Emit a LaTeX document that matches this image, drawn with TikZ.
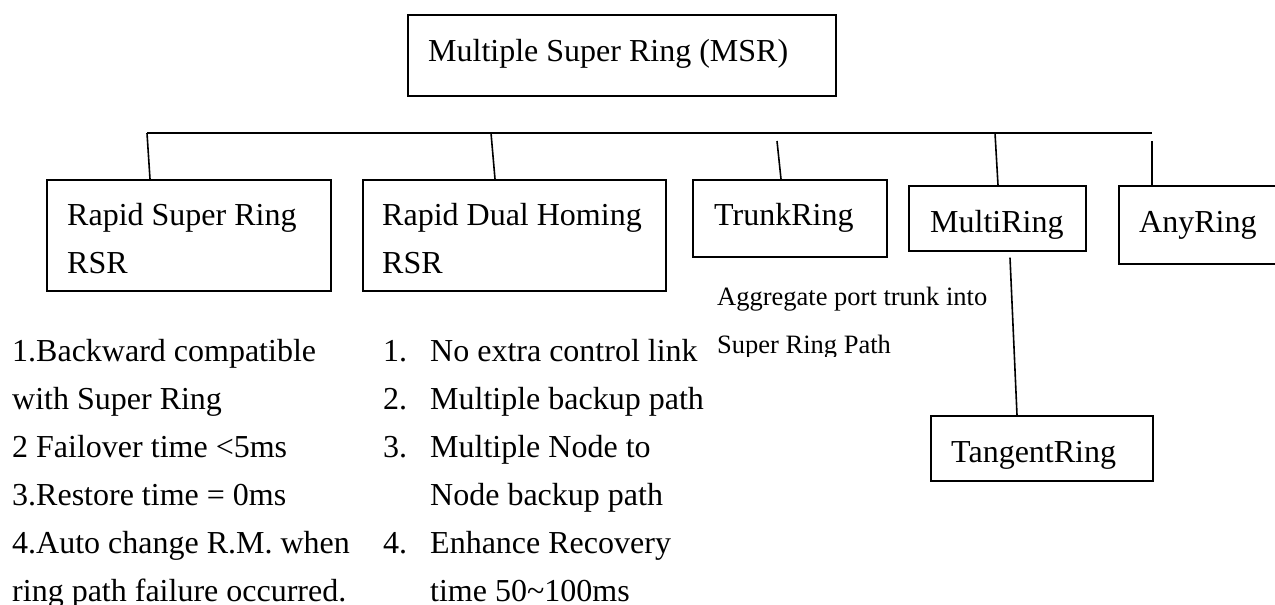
\documentclass[tikz,border=0pt]{standalone}
\usepackage{fontspec}
\setmainfont{Liberation Serif}
\usetikzlibrary{calc}
\begin{document}
\begin{tikzpicture}[x=1pt,y=-1pt,
  box/.style={draw, line width=1.6pt, inner sep=0pt, anchor=north west},
  conn/.style={line width=1.6pt},
  big/.style={anchor=base west, inner sep=0pt, font=\fontsize{32}{38}\selectfont},
  small/.style={anchor=base west, inner sep=0pt, font=\fontsize{26.5}{32}\selectfont}]
\useasboundingbox (0,0) rectangle (1275,605);
\clip (0,0) rectangle (1275,605);

% boxes
\node[box, minimum width=428pt, minimum height=81pt] (msr) at (407,14) {};
\node[box, minimum width=284pt, minimum height=111pt] (rsr) at (46,179) {};
\node[box, minimum width=303pt, minimum height=111pt] (rdh) at (362,179) {};
\node[box, minimum width=194pt, minimum height=77pt] (trunk) at (692,179) {};
\node[box, minimum width=177pt, minimum height=65pt] (multi) at (908,185) {};
\node[box, minimum width=190pt, minimum height=78pt] (any) at (1118,185) {};
\node[box, minimum width=222pt, minimum height=65pt] (tangent) at (930,415) {};

% box texts
\node[big] (msrt) at (428,61) {Multiple Super Ring (MSR)};
\node[big] (rsrt1) at (67,225) {Rapid Super Ring};
\node[big] (rsrt2) at (67,273) {RSR};
\node[big] (rdht1) at (382,225) {Rapid Dual Homing};
\node[big] (rdht2) at (382,273) {RSR};
\node[big] (trunkt) at (714,225) {TrunkRing};
\node[big] (multit) at (930,232) {MultiRing};
\node[big] (anyt) at (1139,232) {AnyRing};
\node[big] (tant) at (951,462) {TangentRing};

% bus and connectors
\coordinate (b1) at (147,133);
\coordinate (b2) at (491,133);
\coordinate (b3) at (995,133);
\coordinate (bend) at (1152,133);
\coordinate (t3) at (777,141);
\coordinate (t5) at (1152,141);
\draw[conn] (b1) -- (bend);
\draw[conn] (b1) -- ($(rsr.north west)+(104,0)$);
\draw[conn] (b2) -- ($(rdh.north west)+(133,0)$);
\draw[conn] (t3) -- ($(trunk.north west)+(89,0)$);
\draw[conn] (b3) -- ($(multi.north west)+(90,0)$);
\draw[conn] (t5) -- ($(any.north west)+(34,0)$);
\draw[conn] ($(multi.south west)+(102,6)$) -- ($(tangent.north west)+(87,0)$);

% trunk note
\node[small] (agg1) at (717,305) {Aggregate port trunk into};
\begin{scope}
\clip (700,320) rectangle (920,356);
\node[small] (agg2) at (717,353) {Super Ring Path};
\end{scope}

% left list
\node[big] (l1) at (12,361) {1.Backward compatible};
\node[big] (l2) at (12,409) {with Super Ring};
\node[big] (l3) at (12,457) {2 Failover time <5ms};
\node[big] (l4) at (12,505) {3.Restore time = 0ms};
\node[big] (l5) at (12,553) {4.Auto change R.M. when};
\node[big] (l6) at (12,601) {ring path failure occurred.};

% right list
\node[big] (n1) at (383,361) {1.};
\node[big] (n2) at (383,409) {2.};
\node[big] (n3) at (383,457) {3.};
\node[big] (n4) at (383,553) {4.};
\node[big] (r1) at (430,361) {No extra control link};
\node[big] (r2) at (430,409) {Multiple backup path};
\node[big] (r3) at (430,457) {Multiple Node to};
\node[big] (r4) at (430,505) {Node backup path};
\node[big] (r5) at (430,553) {Enhance Recovery};
\node[big] (r6) at (430,601) {time 50\textasciitilde100ms};
\end{tikzpicture}
\end{document}
